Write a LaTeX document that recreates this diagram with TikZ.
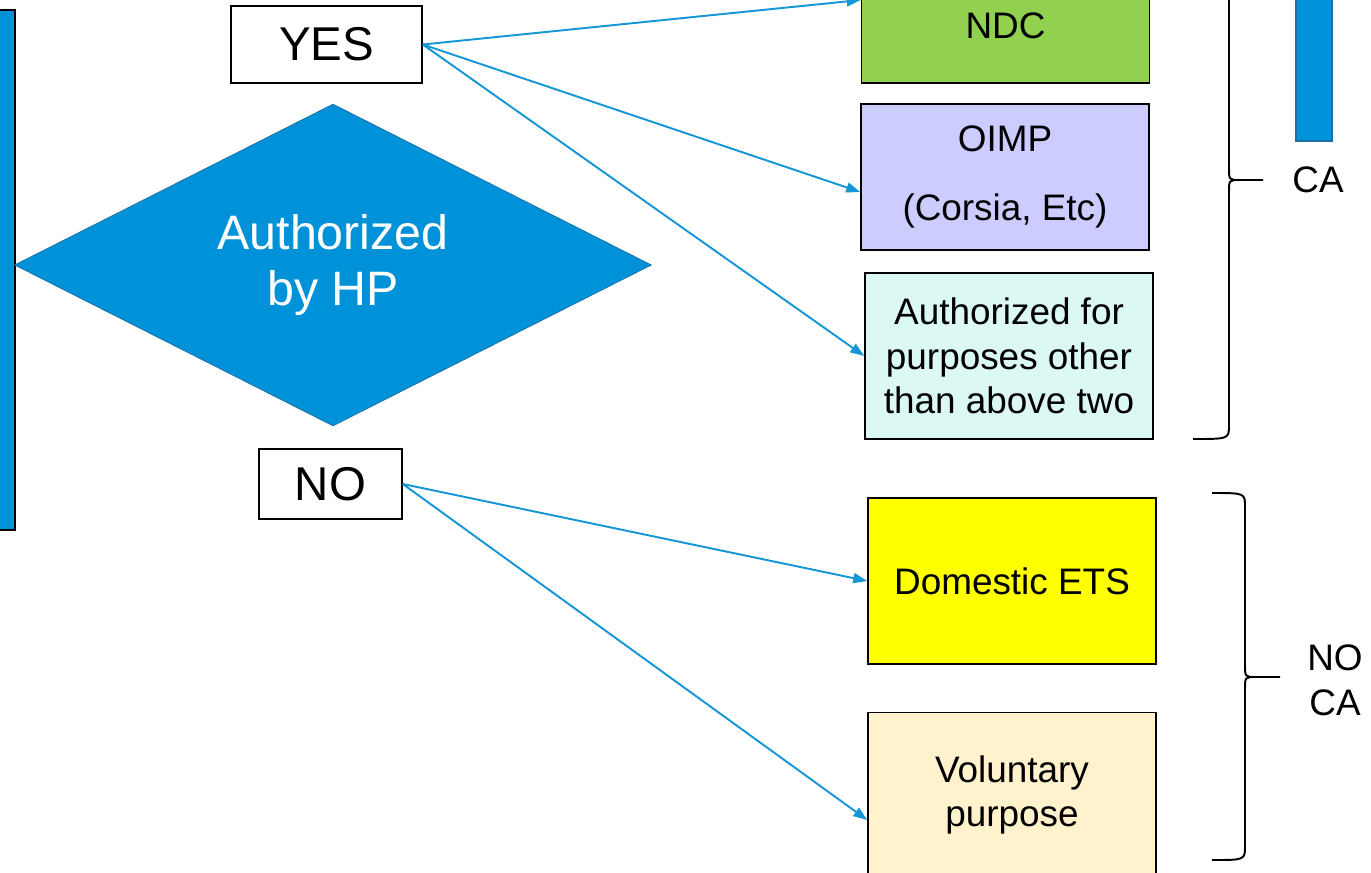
\documentclass[tikz,border=0pt]{standalone}
\usepackage{fontspec}
\setmainfont{Liberation Sans}
\usetikzlibrary{shapes.geometric,arrows.meta}

\definecolor{hpblue}{RGB}{0,146,216}
\definecolor{hpedge}{RGB}{30,110,160}
\definecolor{linkblue}{RGB}{20,150,215}
\definecolor{ndcgreen}{RGB}{146,208,80}
\definecolor{oimpviolet}{RGB}{204,204,255}
\definecolor{othercyan}{RGB}{220,248,244}
\definecolor{etsyellow}{RGB}{255,255,0}
\definecolor{volcream}{RGB}{255,242,204}

\begin{document}
\begin{tikzpicture}[x=0.02cm, y=-0.02cm,
	box/.style={draw=black, line width=0.9pt, minimum width=5.76cm, align=center,
		inner sep=0pt, font=\fontsize{21}{25.5}\selectfont},
	answer/.style={draw=black, line width=0.9pt, font=\fontsize{27}{32}\selectfont},
	link/.style={draw=linkblue, line width=1.1pt, -{Triangle[length=0.28cm, width=0.2cm]}},
	curly/.style={draw=black, line width=1.1pt},
	side/.style={align=center, font=\fontsize{21}{25.5}\selectfont}]
	%	frame
	\useasboundingbox (0, 0) rectangle (1371, 872);
	\clip (0, 0) rectangle (1371, 872);
	
	%	bars
	\draw[fill=hpblue, line width=0.9pt] (-5, 10) rectangle (15, 530);
	\draw[fill=hpblue, draw=hpedge, line width=0.9pt] (1296, -10) rectangle (1332, 141);
	
	%	decision
	\node[diamond, aspect=2, fill=hpblue, draw=hpedge, inner sep=0pt,
		minimum width=12.74cm, minimum height=6.44cm, text=white, align=center,
		font=\fontsize{27.5}{32}\selectfont] (hp) at (333, 265) {Authorized\\by HP};
	\node[answer, minimum width=3.82cm, minimum height=1.54cm] (yes) at (326.5, 44.5) {YES};
	\node[answer, minimum width=2.86cm, minimum height=1.4cm] (no) at (330.5, 484) {NO};
	
	%	uses
	\node[box, fill=ndcgreen, minimum height=2.28cm] (ndc) at (1005.5, 26) {NDC};
	\node[box, fill=oimpviolet, minimum height=2.92cm] (oimp) at (1005, 177) {OIMP\\[14pt](Corsia, Etc)};
	\node[box, fill=othercyan, minimum height=3.32cm] (other) at (1009, 356) {Authorized for\\purposes other\\than above two};
	\node[box, fill=etsyellow, minimum height=3.32cm] (ets) at (1012, 581) {Domestic ETS};
	\node[box, fill=volcream, minimum height=3.3cm] (vol) at (1012, 795) {Voluntary\\purpose};
	
	%	links
	\draw[link] (yes.east) -- ([yshift=0.52cm]ndc.west);
	\draw[link] (yes.east) -- ([yshift=-0.3cm]oimp.west);
	\draw[link] (yes.east) -- (other.west);
	\draw[link] (no.east) -- (ets.west);
	\draw[link] (no.east) -- ([yshift=-0.5cm]vol.west);
	
	%	braces
	\draw[curly] (1229, -60) -- (1229, 168) .. controls (1229, 180) .. (1240, 180) -- (1263, 180);
	\draw[curly] (1240, 180) .. controls (1229, 180) .. (1229, 192) -- (1229, 425) .. controls (1229, 439) .. (1193, 439);
	\draw[curly] (1212, 493) .. controls (1245, 493) .. (1245, 507) -- (1245, 665) .. controls (1245, 677) .. (1256, 677) -- (1280, 677);
	\draw[curly] (1256, 677) .. controls (1245, 677) .. (1245, 689) -- (1245, 846) .. controls (1245, 860) .. (1212, 860);
	\node[side] (ca) at (1318, 180) {CA};
	\node[side] (noca) at (1335, 680) {NO\\CA};
\end{tikzpicture}
\end{document}
